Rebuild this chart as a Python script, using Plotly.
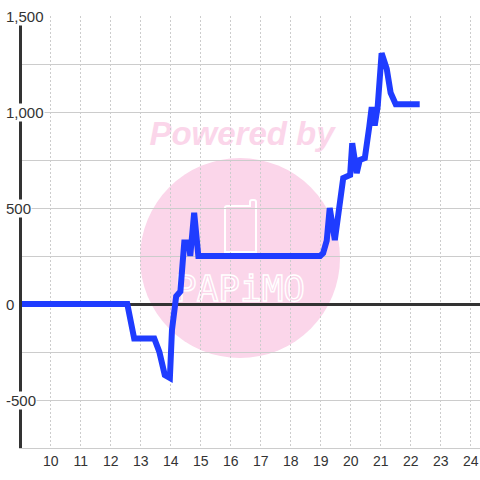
import base64
import plotly.graph_objects as go

# ---- data ----
x_vals = [9, 12.55, 12.78, 13.45, 13.62, 13.8, 13.97, 14.04, 14.18, 14.32, 14.45, 14.6, 14.65,
          14.78, 14.92, 18.98, 19.08, 19.2, 19.3, 19.47, 19.75, 19.98, 20.05, 20.2, 20.3, 20.47,
          20.62, 20.7, 20.8, 20.9, 21.03, 21.2, 21.33, 21.5, 22.3]
y_vals = [0, 0, -180, -180, -250, -370, -385, -135, 40, 65, 320, 320, 250,
          475, 250, 250, 265, 330, 500, 333, 656, 672, 838, 682, 750, 760,
          925, 1025, 930, 1030, 1306, 1225, 1100, 1040, 1040]

x_tick_vals = list(range(10, 25))
x_tick_text = [str(v) for v in x_tick_vals]
y_grid_vals = [-750, -500, -250, 0, 250, 500, 750, 1000, 1250, 1500]
y_label_vals = [-500, 0, 500, 1000, 1500]
y_label_text = ["-500", "0", "500", "1,000", "1,500"]

# ---- figure geometry ----
W, H = 480, 480
ML, MR, MT, MB = 22, 0, 16, 32
PW, PH = W - ML - MR, H - MT - MB

fig = go.Figure()
fig.add_trace(go.Scatter(x=x_vals, y=y_vals, mode="lines",
                         line=dict(color="#1f3cff", width=6), hoverinfo="skip"))

# watermark (decoration) as an svg image below the grid
svg = f"""<svg xmlns='http://www.w3.org/2000/svg' width='{W}' height='{H}' viewBox='0 0 {W} {H}'>
<circle cx='240' cy='258' r='100' fill='#fbd6ea'/>
<text x='242' y='145' text-anchor='middle' font-family='Liberation Sans, Arial, sans-serif' font-weight='bold' font-style='italic' font-size='33' fill='#fbd6ea'>Powered by</text>
<path d='M225,252 L225,208 Q225,206 227,206 L250,206 L250,202 Q250,200 252,200 L254,200 Q256,200 256,202 L256,252 Z' fill='none' stroke='white' stroke-width='2'/>
<text x='240' y='301' text-anchor='middle' font-family='DejaVu Sans Mono, monospace' font-size='36' fill='none' stroke='white' stroke-width='1.4' textLength='130' lengthAdjust='spacingAndGlyphs'>PAPiMO</text>
</svg>"""
uri = "data:image/svg+xml;base64," + base64.b64encode(svg.encode()).decode()
fig.add_layout_image(dict(source=uri, xref="paper", yref="paper",
                          x=-ML / PW, y=1 + MT / PH, sizex=W / PW, sizey=H / PH,
                          xanchor="left", yanchor="top", sizing="stretch", layer="below"))

for v, t in zip(y_label_vals, y_label_text):
    fig.add_annotation(x=0, xref="paper", y=v, yref="y", text=t, showarrow=False,
                       xanchor="left", xshift=-17, bgcolor="white", borderpad=0,
                       font=dict(family="Liberation Sans, Arial, sans-serif", size=15, color="#333"))

fig.update_layout(
    width=W, height=H, margin=dict(l=ML, r=MR, t=MT, b=MB, autoexpand=False),
    paper_bgcolor="white", plot_bgcolor="white", showlegend=False,
    font=dict(family="Liberation Sans, Arial, sans-serif", size=14, color="#333"),
    xaxis=dict(range=[9.04, 24.31], tickvals=x_tick_vals, ticktext=x_tick_text,
               showgrid=True, gridcolor="#cccccc", gridwidth=1, griddash="2px,2px",
               showline=True, linecolor="#cccccc", linewidth=1, ticks="",
               zeroline=False, automargin=False, tickfont=dict(size=14, color="#333")),
    yaxis=dict(range=[-750, 1500], tickvals=y_grid_vals, showticklabels=False,
               showgrid=True, gridcolor="#cccccc", gridwidth=1,
               showline=True, linecolor="#333333", linewidth=3, ticks="",
               zeroline=True, zerolinecolor="#333333", zerolinewidth=3, automargin=False),
)

fig.write_html("out.html", config={"displayModeBar": False, "staticPlot": True},
               post_script="document.body.style.margin='0';document.body.style.overflow='hidden';")
